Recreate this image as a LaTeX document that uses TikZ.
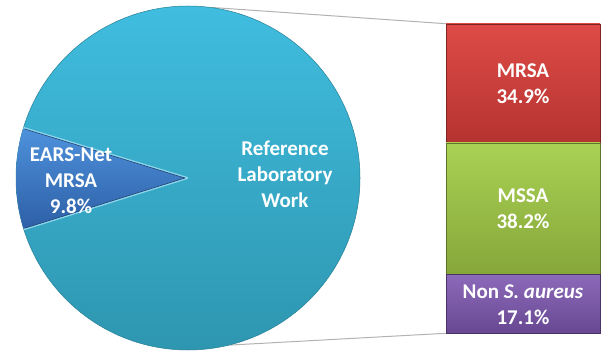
\documentclass[tikz,border=0pt]{standalone}
\usepackage{fontspec}
\setmainfont{Carlito}
\begin{document}
\begin{tikzpicture}[x=1pt,y=-1pt,
  lbl/.style={text=white,font=\bfseries\fontsize{21}{26}\selectfont,align=center},
  bar/.style={rectangle,draw=#1!70!black,line width=0.6pt,minimum width=154pt,inner sep=0pt},
  link/.style={draw=gray!60,line width=1pt}]
\useasboundingbox (0,0) rectangle (601,352);
\definecolor{cyanA}{HTML}{40BDDF}
\definecolor{cyanB}{HTML}{2E96B0}
\definecolor{blueA}{HTML}{4E92DC}
\definecolor{blueB}{HTML}{2D5FA6}
\definecolor{redA}{HTML}{DE4B46}
\definecolor{redB}{HTML}{B53331}
\definecolor{grnA}{HTML}{AAD254}
\definecolor{grnB}{HTML}{86A63A}
\definecolor{purA}{HTML}{8C6ABA}
\definecolor{purB}{HTML}{684892}
% pie as a named node
\node[circle,minimum size=344pt,inner sep=0pt] (pie) at (188,178) {};
% bars
\node[bar=redB,minimum height=119pt,top color=redA,bottom color=redB] (mrsa) at (523,83.5) {};
\node[bar=grnB,minimum height=131pt,top color=grnA,bottom color=grnB] (mssa) at (523,208.5) {};
\node[bar=purB,minimum height=59pt,top color=purA,bottom color=purB] (nonsa) at (523,303.5) {};
% connectors
\draw[link] (pie.82) -- (mrsa.north west);
\draw[link] (pie.-76) -- (nonsa.south west);
% pie body
\shade[top color=cyanA,bottom color=cyanB,draw=cyanB!85!black,line width=0.5pt] (188,178) circle (172);
% slice
\coordinate (c) at (188,178);
\shade[top color=blueA,bottom color=blueB] (c) -- ++(162.6:172) arc[start angle=162.6,end angle=197,radius=172] -- cycle;
\draw[cyanA!60!white,line width=1.6pt] (c) -- ++(162.6:172);
\draw[cyanA!60!white,line width=1.6pt] (c) -- ++(197:172);
\draw[blueB!70!black,line width=0.6pt] ([xshift=-3pt]c) -- ++(162.6:168);
\draw[blueB!70!black,line width=0.6pt] ([xshift=-3pt]c) -- ++(197:168);
% labels
\node[lbl] (tref) at (285,174) {Reference\\Laboratory\\Work};
\node[lbl] (tears) at (71,181) {EARS-Net\\MRSA\\9.8\%};
\node[lbl] at (mrsa) {MRSA\\34.9\%};
\node[lbl] at (mssa) {MSSA\\38.2\%};
\node[lbl] at ([yshift=-1pt]nonsa) {Non \textit{S. aureus}\\17.1\%};
\end{tikzpicture}
\end{document}
